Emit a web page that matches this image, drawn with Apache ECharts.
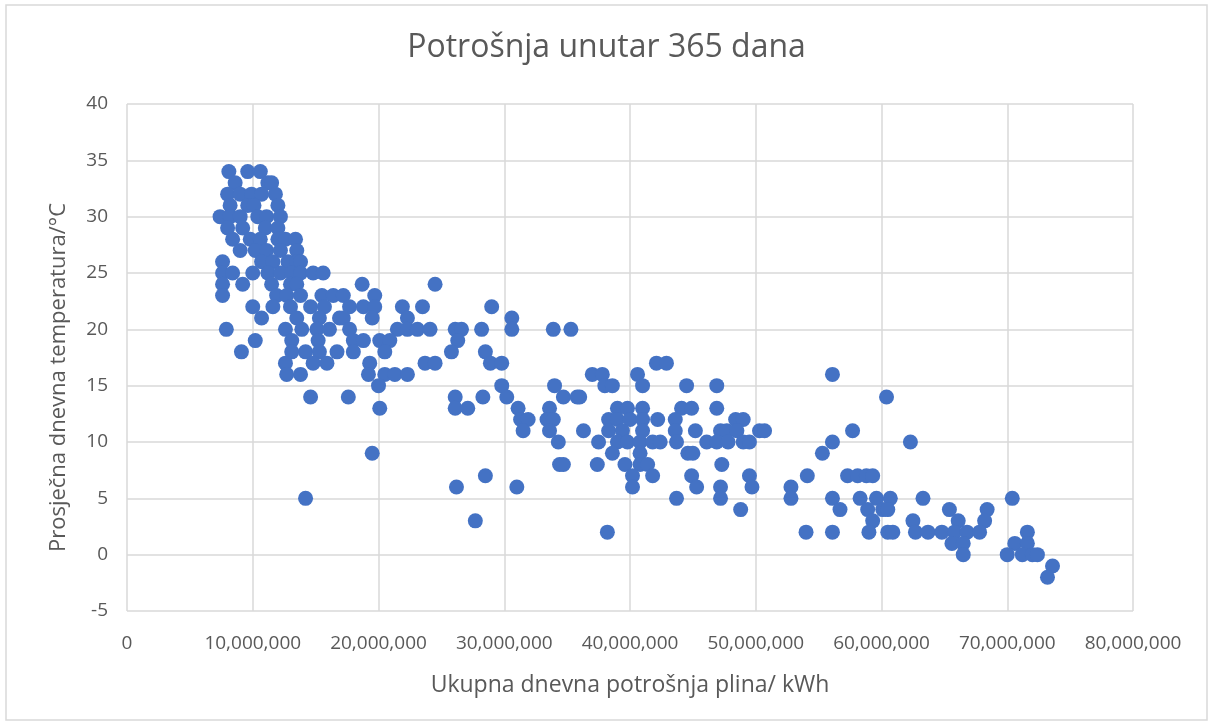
<!DOCTYPE html>
<html>
<head>
<meta charset="utf-8">
<title>Potrošnja unutar 365 dana</title>
<script src="https://cdn.jsdelivr.net/npm/echarts@6/dist/echarts.min.js"></script>
<style>
  html, body { margin: 0; padding: 0; background: #fff; }
  #chart { width: 1213px; height: 726px; }
</style>
</head>
<body>
<div id="chart"></div>
<script>
// ukupna dnevna potrošnja plina (kWh)
const gasUse = [
  8100000, 9600000, 10600000,
  8600000, 11200000, 11500000,
  8000000, 9000000, 9900000, 10700000, 11800000,
  8200000, 9600000, 10100000, 12000000,
  7400000, 8200000, 9000000, 10400000, 11100000, 12200000,
  8000000, 9200000, 11000000, 12000000,
  8400000, 9800000, 10600000, 12000000, 12600000, 13400000,
  9000000, 10200000, 11100000, 12200000, 13500000,
  7600000, 10700000, 11600000, 12800000, 13500000, 13800000,
  7600000, 8400000, 10000000, 11200000, 12200000, 13100000, 13800000, 14800000, 15600000,
  7600000, 9200000, 11500000, 13000000, 13500000, 18700000, 24500000,
  7600000, 11900000, 12700000, 13800000, 15500000, 16400000, 17200000, 19700000,
  10000000, 11600000, 13000000, 14600000, 15700000, 17700000, 18800000, 19700000, 21900000, 23500000, 29000000,
  10700000, 13500000, 15300000, 16900000, 17200000, 19500000, 22300000, 30600000,
  7900000, 12600000, 13900000, 15100000, 16100000, 17700000, 21500000, 22300000, 23100000, 24100000, 26100000, 26600000, 28200000, 30600000, 33900000, 35300000,
  10200000, 13100000, 15200000, 18000000, 18800000, 20100000, 20900000, 26300000,
  9100000, 13100000, 14200000, 15300000, 16700000, 18000000, 20500000, 25800000, 28500000,
  12600000, 14800000, 15900000, 19300000, 23700000, 24500000, 28900000, 29800000, 42100000, 42900000,
  12700000, 13800000, 19200000, 20500000, 21300000, 22300000, 37000000, 37800000, 40600000, 56100000,
  20000000, 29800000, 34000000, 38000000, 38600000, 41000000, 44500000, 46900000,
  14600000, 17600000, 26100000, 28300000, 30200000, 34700000, 35800000, 36000000, 60400000,
  20100000, 26100000, 27100000, 31100000, 33600000, 39000000, 39800000, 41000000, 44100000, 44900000, 46900000,
  31300000, 31900000, 33400000, 33900000, 38300000, 39000000, 40000000, 41000000, 42200000, 43600000, 48400000, 49000000,
  31500000, 33600000, 36300000, 38300000, 39400000, 41000000, 43600000, 45200000, 47200000, 47700000, 48500000, 50300000, 50700000, 57700000,
  34300000, 37500000, 39000000, 39800000, 40800000, 41800000, 42400000, 43700000, 46100000, 46900000, 47800000, 49000000, 49500000, 56100000, 62300000,
  19500000, 38600000, 40800000, 44600000, 45000000, 55300000,
  34400000, 34700000, 37400000, 39600000, 40800000, 41400000, 47300000,
  28500000, 40200000, 41800000, 44900000, 49500000, 54100000, 57300000, 58100000, 58800000, 59300000,
  26200000, 31000000, 40200000, 45300000, 47200000, 49700000, 52800000,
  14200000, 43700000, 47200000, 52800000, 56100000, 58300000, 59600000, 60700000, 63300000, 70400000,
  48800000, 56700000, 58900000, 60100000, 60500000, 65400000, 68400000,
  27700000, 59300000, 62500000, 66100000, 68200000,
  38200000, 54000000, 56100000, 59000000, 60500000, 60900000, 62700000, 63700000, 64800000, 65800000, 66800000, 67800000, 71600000,
  65600000, 66500000, 70600000, 71600000,
  66500000, 70000000, 71200000, 72000000, 72400000,
  73600000,
  73200000
];

// prosječna dnevna temperatura (°C), same order as gasUse
const temperature = [
  34, 34, 34,
  33, 33, 33,
  32, 32, 32, 32, 32,
  31, 31, 31, 31,
  30, 30, 30, 30, 30, 30,
  29, 29, 29, 29,
  28, 28, 28, 28, 28, 28,
  27, 27, 27, 27, 27,
  26, 26, 26, 26, 26, 26,
  25, 25, 25, 25, 25, 25, 25, 25, 25,
  24, 24, 24, 24, 24, 24, 24,
  23, 23, 23, 23, 23, 23, 23, 23,
  22, 22, 22, 22, 22, 22, 22, 22, 22, 22, 22,
  21, 21, 21, 21, 21, 21, 21, 21,
  20, 20, 20, 20, 20, 20, 20, 20, 20, 20, 20, 20, 20, 20, 20, 20,
  19, 19, 19, 19, 19, 19, 19, 19,
  18, 18, 18, 18, 18, 18, 18, 18, 18,
  17, 17, 17, 17, 17, 17, 17, 17, 17, 17,
  16, 16, 16, 16, 16, 16, 16, 16, 16, 16,
  15, 15, 15, 15, 15, 15, 15, 15,
  14, 14, 14, 14, 14, 14, 14, 14, 14,
  13, 13, 13, 13, 13, 13, 13, 13, 13, 13, 13,
  12, 12, 12, 12, 12, 12, 12, 12, 12, 12, 12, 12,
  11, 11, 11, 11, 11, 11, 11, 11, 11, 11, 11, 11, 11, 11,
  10, 10, 10, 10, 10, 10, 10, 10, 10, 10, 10, 10, 10, 10, 10,
  9, 9, 9, 9, 9, 9,
  8, 8, 8, 8, 8, 8, 8,
  7, 7, 7, 7, 7, 7, 7, 7, 7, 7,
  6, 6, 6, 6, 6, 6, 6,
  5, 5, 5, 5, 5, 5, 5, 5, 5, 5,
  4, 4, 4, 4, 4, 4, 4,
  3, 3, 3, 3, 3,
  2, 2, 2, 2, 2, 2, 2, 2, 2, 2, 2, 2, 2,
  1, 1, 1, 1,
  0, 0, 0, 0, 0,
  -1,
  -2
];

const titleText = "Potrošnja unutar 365 dana";
const xAxisName = "Ukupna dnevna potrošnja plina/ kWh";
const yAxisName = "Prosječna dnevna temperatura/°C";

const textColor = "#595959";
const gridColor = "#d9d9d9";
const font = "'Open Sans', 'Noto Sans', sans-serif";

const chart = echarts.init(document.getElementById("chart"), null, { renderer: "canvas" });

chart.setOption({
  animation: false,
  backgroundColor: "#fff",
  title: {
    text: titleText,
    left: "center",
    top: 27,
    textStyle: { color: textColor, fontFamily: font, fontSize: 32, fontWeight: "normal" }
  },
  grid: { left: 127, right: 80, top: 104, bottom: 115 },
  xAxis: {
    type: "value",
    min: 0,
    max: 80000000,
    interval: 10000000,
    name: xAxisName,
    nameLocation: "middle",
    nameGap: 63,
    nameTextStyle: { color: textColor, fontFamily: font, fontSize: 23 },
    axisLine: { show: false },
    axisTick: { show: false },
    axisLabel: {
      color: textColor,
      fontFamily: font,
      fontSize: 19,
      margin: 23,
      formatter: (v) => v.toLocaleString("en-US")
    },
    splitLine: { show: true, lineStyle: { color: gridColor, width: 1.5 } }
  },
  yAxis: {
    type: "value",
    min: -5,
    max: 40,
    interval: 5,
    name: yAxisName,
    nameLocation: "middle",
    nameGap: 57,
    // padding pushes the rotated title a bit lower, like the original
    nameTextStyle: { color: textColor, fontFamily: font, fontSize: 22, padding: [0, 40, 0, 0] },
    axisLine: { show: false },
    axisTick: { show: false },
    axisLabel: { color: textColor, fontFamily: font, fontSize: 19, margin: 19 },
    splitLine: { show: true, lineStyle: { color: gridColor, width: 1.5 } }
  },
  series: [
    {
      type: "scatter",
      symbol: "circle",
      symbolSize: 15,
      itemStyle: { color: "#4472C4", opacity: 1 },
      data: gasUse.map((x, i) => [x, temperature[i]])
    }
  ],
  graphic: [
    {
      type: "rect",
      shape: { x: 6, y: 5, width: 1201, height: 715 },
      style: { fill: "none", stroke: gridColor, lineWidth: 1.5 },
      silent: true
    }
  ]
});
</script>
</body>
</html>
